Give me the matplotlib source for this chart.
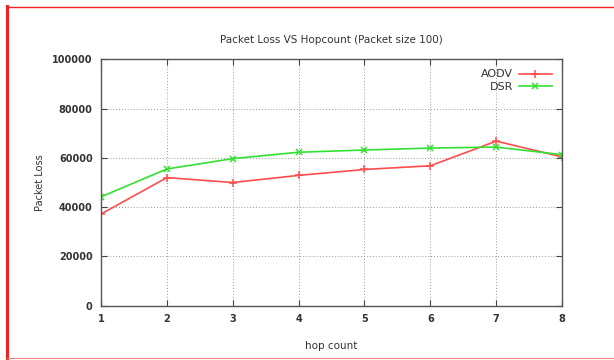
import matplotlib
matplotlib.use("Agg")
import matplotlib.pyplot as plt
from matplotlib.lines import Line2D

# values
hop_count = [1, 2, 3, 4, 5, 6, 7, 8]
aodv_loss = [37200, 52000, 50000, 52900, 55300, 56800, 66800, 60400]
dsr_loss = [44200, 55500, 59700, 62300, 63200, 64000, 64400, 61300]
y_ticks = [0, 20000, 40000, 60000, 80000, 100000]

plt.rcParams['font.family'] = ['DejaVu Sans']

fig = plt.figure(figsize=(6.14, 3.6), dpi=100)
ax = fig.add_axes([0.1645, 0.151, 0.751, 0.684])

ax.plot(hop_count, aodv_loss, color="#ff4d4d", marker="+", markersize=6,
        markeredgewidth=1.1, linewidth=1.2, label="AODV")
ax.plot(hop_count, dsr_loss, color="#33e033", marker="x", markersize=5,
        markeredgewidth=1.1, linewidth=1.2, label="DSR")

ax.set_xlim(1, 8)
ax.set_ylim(0, 100000)
ax.set_xticks(hop_count)
ax.set_yticks(y_ticks)
ax.tick_params(direction="in", top=True, right=True, length=4, width=0.8,
               labelsize=7, colors="#444444", labelcolor="#333333", pad=6)
for lbl in ax.get_xticklabels() + ax.get_yticklabels():
    lbl.set_fontweight("bold")

ax.grid(True, linestyle=(0, (1, 2)), color="#999999", linewidth=0.7)
for side in ax.spines.values():
    side.set_color("#555555")
    side.set_linewidth(1.0)

ax.set_title("Packet Loss VS Hopcount (Packet size 100)", fontsize=7.5,
             color="#333333", pad=12)
ax.set_xlabel("hop count", fontsize=7.5, color="#333333", labelpad=12)
ax.set_ylabel("Packet Loss", fontsize=7, color="#333333", labelpad=5)

ax.legend(loc="upper right", frameon=False, markerfirst=False, fontsize=8,
          handlelength=3.0, handletextpad=0.5, labelspacing=0.2,
          borderaxespad=0.5, labelcolor="#333333")

# red frame around the screenshot
fig.add_artist(Line2D([0.011, 0.011], [0.005, 0.983], color="#ee2222", linewidth=2.2))
fig.add_artist(Line2D([0.011, 1.0], [0.981, 0.981], color="#ee2222", linewidth=1.0))
fig.add_artist(Line2D([0.011, 1.0], [0.006, 0.006], color="#f08080", linewidth=0.8))

fig.savefig("out.png", dpi=100)
